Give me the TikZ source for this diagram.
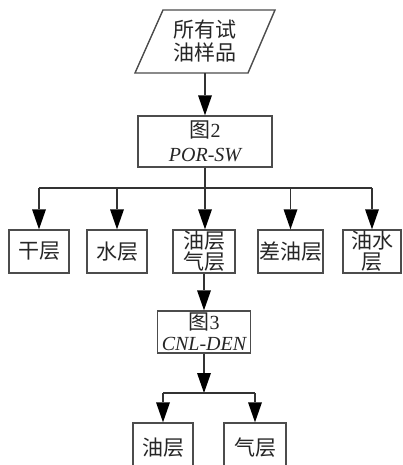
\documentclass[tikz,border=0pt]{standalone}
\usepackage{fontspec}
\setmainfont{Liberation Serif}
\newfontfamily\cjk{Noto Sans CJK SC}
\usetikzlibrary{arrows.meta}
\begin{document}
\begin{tikzpicture}[x=1pt,y=-1pt,
  line/.style={draw=black!80, line width=1.3pt},
  arr/.style={line, -{Triangle[length=20pt,width=14pt,fill=black,line width=0pt]}},
  box/.style={draw=black!70, line width=1.4pt, inner sep=0pt, align=center,
    text=black!85, font=\fontsize{21}{21}\selectfont},
  lbl/.style={inner sep=0pt, align=center, text=black!85, font=\fontsize{21}{23}\selectfont},
  lat/.style={font=\fontsize{20}{24}\selectfont},
]
\clip (0,0) rectangle (402,465);
\fill[white] (0,0) rectangle (402,465);
% start parallelogram
\draw[draw=black!70, line width=1.4pt] (163,10) -- (275,10) -- (248,73) -- (135,73) -- cycle;
\node[lbl, minimum height=63pt] (s) at (205,41.5) {\cjk 所有试\\\cjk 油样品};
% POR-SW box
\node[box, lat, minimum width=134pt, minimum height=51pt] (b1) at (205,141.5) {{\cjk\fontsize{21}{24}\selectfont 图}2\\\itshape POR-SW};
% row of classes
\node[box, minimum width=60pt, minimum height=43pt] (r1) at (39,251.5) {\cjk 干层};
\node[box, minimum width=60pt, minimum height=43pt] (r2) at (117,251.5) {\cjk 水层};
\node[box, minimum width=62pt, minimum height=43pt] (r3) at (204,251.5) {\cjk 油层\\\cjk 气层};
\node[box, minimum width=65pt, minimum height=43pt] (r4) at (290.5,251.5) {\cjk 差油层};
\node[box, minimum width=58pt, minimum height=43pt] (r5) at (372,251.5) {\cjk 油水\\\cjk 层};
% CNL-DEN box
\node[box, lat, font=\fontsize{20}{21}\selectfont, minimum width=93pt, minimum height=42pt] (b2) at (204,332) {{\cjk\fontsize{21}{21}\selectfont 图}3\\\itshape CNL-DEN};
% bottom boxes
\node[box, minimum width=60pt, minimum height=50pt] (c1) at (163,448) {\cjk 油层};
\node[box, minimum width=62pt, minimum height=50pt] (c2) at (255,448) {\cjk 气层};
% connectors
\draw[arr] (s.south) -- (b1.north);
\coordinate (h) at (205,188);
\draw[line] (b1.south) -- (h);
\draw[line] (r1.north |- h) -- (r5.north |- h);
\foreach \n in {r1,r2,r4,r5} \draw[arr] (\n.north |- h) -- (\n.north);
\draw[arr] (h) -- (h |- r3.north);
\draw[arr] (r3.south) -- (b2.north);
\coordinate (j) at (204,393);
\draw[arr] (b2.south) -- (j);
\draw[line] (c1.north |- j) -- (c2.north |- j);
\draw[arr] (c1.north |- j) -- (c1.north);
\draw[arr] (c2.north |- j) -- (c2.north);
\end{tikzpicture}
\end{document}
